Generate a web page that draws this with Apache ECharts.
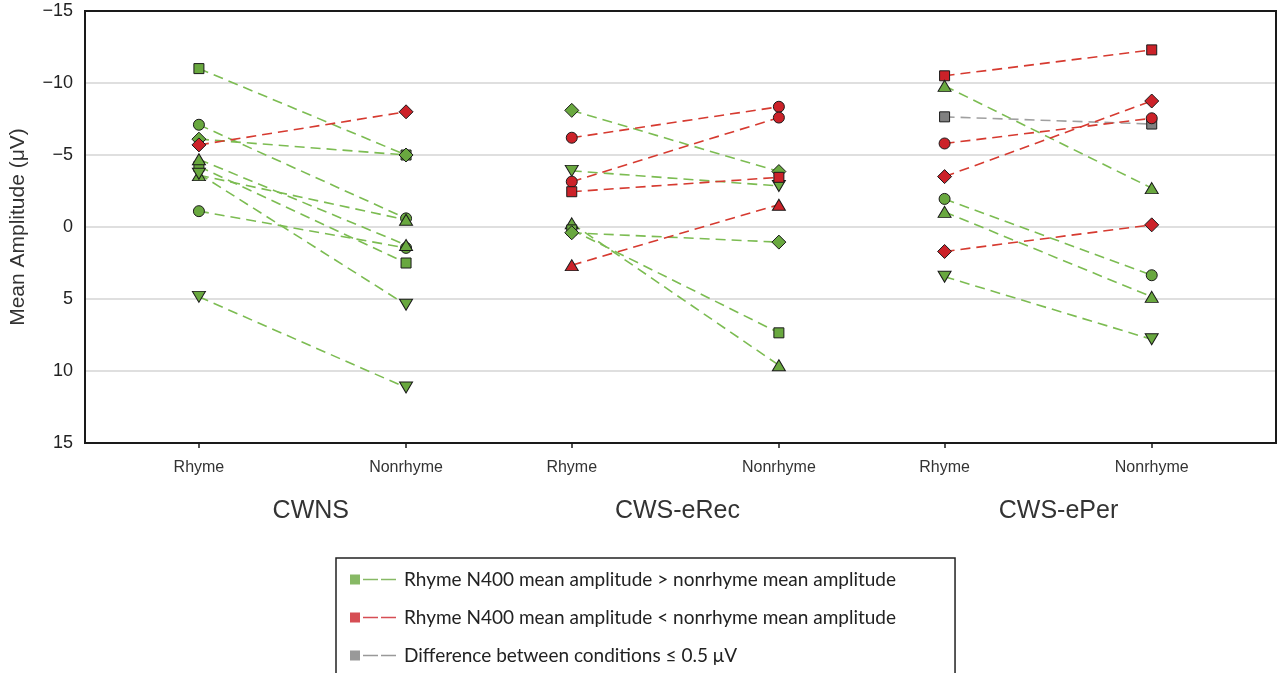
<!DOCTYPE html>
<html>
<head>
<meta charset="utf-8">
<script src="https://cdn.jsdelivr.net/npm/echarts@6/dist/echarts.min.js"></script>
<style>html,body{margin:0;padding:0;background:#fff;}#c{width:1281px;height:673px;}</style>
</head>
<body>
<div id="c"></div>
<script>
// ---- data ----
const xPositions = [1.1, 3.1, 4.7, 6.7, 8.3, 10.3];
const xTickLabels = ['Rhyme', 'Nonrhyme', 'Rhyme', 'Nonrhyme', 'Rhyme', 'Nonrhyme'];
const groupNames = ['CWNS', 'CWS-eRec', 'CWS-ePer'];
const groupCenters = [2.18, 5.72, 9.4];
const yTicks = [-15, -10, -5, 0, 5, 10, 15];

const legendNames = {
  g: 'Rhyme N400 mean amplitude > nonrhyme mean amplitude',
  r: 'Rhyme N400 mean amplitude < nonrhyme mean amplitude',
  n: 'Difference between conditions \u2264 0.5 \u03bcV'
};

const cwnsRhyme    = [-11.0, -4.2, -6.1, -7.1, -1.1, -4.7, -3.6, -3.7, 4.85, -5.7];
const cwnsNonrhyme = [-5.0,  2.5, -5.0, -0.6,  1.45, 1.25, -0.5, 5.4, 11.15, -8.0];
const cwnsShapes   = ['square','square','diamond','circle','circle','triangle','triangle','down','down','diamond'];
const cwnsClass    = ['g','g','g','g','g','g','g','g','g','r'];

const erecRhyme    = [-8.1, -6.2, -3.9, -3.15, -2.45, -0.25, 0.2, 0.4, 2.65];
const erecNonrhyme = [-3.85, -8.35, -2.85, -7.6, -3.45, 9.6, 7.35, 1.05, -1.55];
const erecShapes   = ['diamond','circle','down','circle','square','triangle','square','diamond','triangle'];
const erecClass    = ['g','r','g','r','r','g','g','g','r'];

const eperRhyme    = [-10.5, -9.8, -7.65, -5.8, -3.5, -1.95, -1.05, 1.7, 3.45];
const eperNonrhyme = [-12.3, -2.7, -7.15, -7.55, -8.75, 3.35, 4.85, -0.15, 7.8];
const eperShapes   = ['square','triangle','square','circle','diamond','circle','triangle','diamond','down'];
const eperClass    = ['r','g','n','r','r','g','g','r','g'];

// ---- styles ----
const fillColors = { g: '#69a83f', r: '#cc2229', n: '#808080' };
const lineColors = { g: '#7cbc52', r: '#d63a30', n: '#a0a0a0' };
const shapeDef = {
  square:   { symbol: 'rect', size: 10, rot: 0 },
  circle:   { symbol: 'circle', size: 11, rot: 0 },
  diamond:  { symbol: 'diamond', size: [14, 14], rot: 0 },
  triangle: { symbol: 'triangle', size: [13, 11], rot: 0 },
  down:     { symbol: 'triangle', size: [13, 11], rot: 180 }
};

const groups = [
  { r: cwnsRhyme, n: cwnsNonrhyme, s: cwnsShapes, c: cwnsClass },
  { r: erecRhyme, n: erecNonrhyme, s: erecShapes, c: erecClass },
  { r: eperRhyme, n: eperNonrhyme, s: eperShapes, c: eperClass }
];

const series = [];
// legend-only series (provide legend icons)
['g', 'r', 'n'].forEach(k => {
  series.push({
    type: 'scatter', name: legendNames[k], data: [],
    itemStyle: { color: fillColors[k] }
  });
});

groups.forEach((g, gi) => {
  const xr = xPositions[gi * 2], xn = xPositions[gi * 2 + 1];
  g.r.forEach((v, i) => {
    const sd = shapeDef[g.s[i]];
    const k = g.c[i];
    series.push({
      type: 'line',
      name: legendNames[k],
      data: [[xr, v], [xn, g.n[i]]],
      symbol: sd.symbol,
      symbolSize: sd.size,
      symbolRotate: sd.rot,
      showAllSymbol: true,
      itemStyle: { color: fillColors[k], borderColor: '#1a1a1a', borderWidth: 1 },
      lineStyle: { color: lineColors[k], width: 1.6, type: [10, 6] },
      emphasis: { disabled: true },
      z: 3
    });
  });
});

function idxOf(arr, v) {
  for (let i = 0; i < arr.length; i++) if (Math.abs(arr[i] - v) < 1e-6) return i;
  return -1;
}

const chart = echarts.init(document.getElementById('c'));
chart.setOption({
  animation: false,
  textStyle: { fontFamily: 'Liberation Sans, Arial, sans-serif' },
  grid: {
    left: 84, right: 5, top: 11, bottom: 230,
    show: true, borderColor: '#1a1a1a', borderWidth: 2, backgroundColor: 'transparent'
  },
  xAxis: [
    {
      type: 'value', min: 0, max: 11.5,
      axisLine: { show: true, onZero: false, lineStyle: { color: '#1a1a1a', width: 2 } },
      axisTick: { show: true, inside: false, length: 5, customValues: xPositions, lineStyle: { color: '#1a1a1a', width: 1.5 } },
      axisLabel: {
        customValues: xPositions, margin: 17, fontSize: 16, color: '#333',
        formatter: v => { const i = idxOf(xPositions, v); return i >= 0 ? xTickLabels[i] : ''; }
      },
      splitLine: { show: false }
    },
    {
      type: 'value', min: 0, max: 11.5, position: 'bottom', offset: 40,
      axisLine: { show: false, onZero: false }, axisTick: { show: false },
      axisLabel: {
        customValues: groupCenters, margin: 16, fontSize: 25, color: '#333',
        formatter: v => { const i = idxOf(groupCenters, v); return i >= 0 ? groupNames[i] : ''; }
      },
      splitLine: { show: false }
    }
  ],
  yAxis: [
    {
      type: 'value', inverse: true, min: yTicks[0], max: yTicks[yTicks.length - 1], interval: 5,
      name: 'Mean Amplitude (\u03bcV)', nameLocation: 'middle', nameGap: 56,
      nameTextStyle: { fontSize: 21, color: '#333' },
      axisLine: { show: true, onZero: false, lineStyle: { color: '#1a1a1a', width: 2 } },
      axisTick: { show: false },
      axisLabel: {
        fontSize: 18, color: '#222', margin: 12,
        formatter: v => (v < 0 ? '\u2212' + Math.abs(v) : String(v))
      },
      splitLine: { show: true, showMinLine: false, showMaxLine: false, lineStyle: { color: '#d4d4d4', width: 1.5 } }
    },
    {
      type: 'value', inverse: true, min: yTicks[0], max: yTicks[yTicks.length - 1], interval: 5,
      position: 'right',
      axisLine: { show: true, onZero: false, lineStyle: { color: '#1a1a1a', width: 2 } },
      axisTick: { show: false }, axisLabel: { show: false }, splitLine: { show: false }
    }
  ],
  legend: {
    data: [legendNames.g, legendNames.r, legendNames.n],
    orient: 'vertical', left: 336, top: 558, height: 150,
    padding: [12, 59, 40, 14],
    itemGap: 19, itemWidth: 46, itemHeight: 10,
    icon: 'path://M0,0H10V10H0Z M13,4.3H28V5.7H13Z M31,4.3H46V5.7H31Z',
    borderColor: '#222', borderWidth: 1.5,
    textStyle: { fontFamily: 'Lato, sans-serif', fontSize: 19, color: '#222', padding: [0, 0, 0, 3] },
    itemStyle: { borderWidth: 0 }
  },
  series: series
});
</script>
</body>
</html>
